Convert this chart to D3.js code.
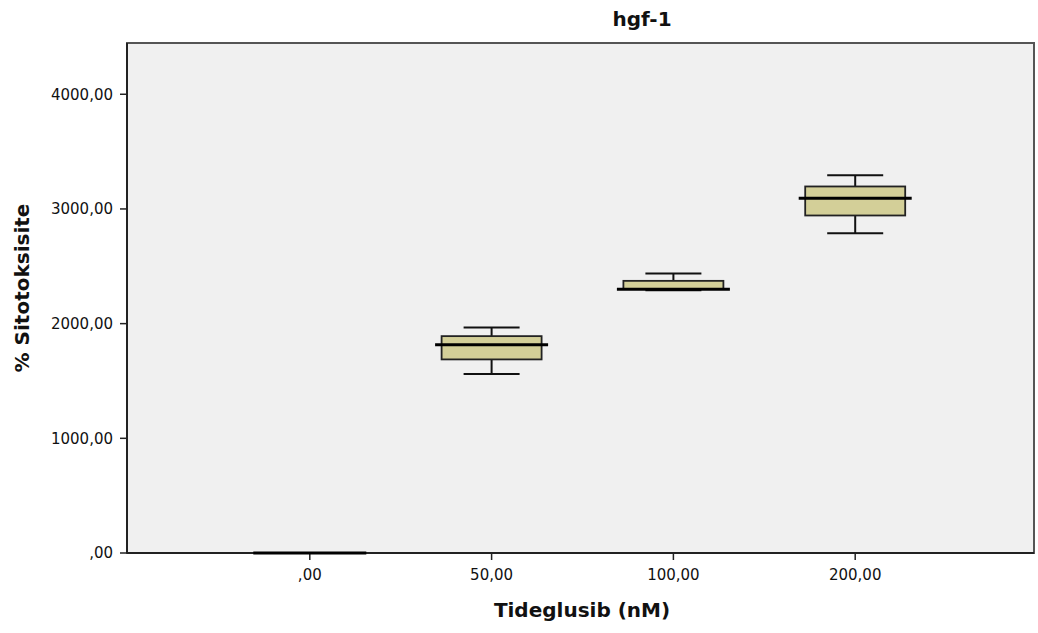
<!DOCTYPE html>
<html><head><meta charset="utf-8">
<script src="https://cdn.jsdelivr.net/npm/d3@7"></script>
<style>body{margin:0;background:#fff}svg{display:block}</style>
</head><body>
<script>
const categories = [",00", "50,00", "100,00", "200,00"];
const whiskerLow = [0, 1560, 2290, 2789];
const q1 = [0, 1688, 2302, 2943];
const median = [0, 1815, 2300, 3094];
const q3 = [0, 1891, 2373, 3196];
const whiskerHigh = [0, 1967, 2437, 3294];
const yTicks = [0, 1000, 2000, 3000, 4000];
const yTickLabels = [",00", "1000,00", "2000,00", "3000,00", "4000,00"];

(function () {
const W = 1038, H = 633;
const svg = d3.select("body").append("svg").attr("width", W).attr("height", H);
const pL = 127, pR = 1034, pT = 43, pB = 553;
const tickFont = "DejaVu Sans, sans-serif";

const x = d3.scalePoint().domain(categories).range([128, 1037]).padding(1);
const y = d3.scaleLinear().domain([0, 4447]).range([pB, pT]);

svg.append("rect").attr("x", pL).attr("y", pT).attr("width", pR - pL).attr("height", pB - pT)
  .attr("fill", "#f0f0f0").attr("stroke", "#555").attr("stroke-width", 2);

// y axis
const ya = svg.append("g");
yTicks.forEach((t, i) => {
  ya.append("line").attr("x1", pL - 7).attr("x2", pL).attr("y1", y(t)).attr("y2", y(t)).attr("stroke", "#222").attr("stroke-width", 1.5);
  ya.append("text").attr("x", pL - 14).attr("y", y(t)).attr("dy", "0.36em").attr("text-anchor", "end")
    .attr("font-family", tickFont).attr("font-size", 15).attr("fill", "#111").text(yTickLabels[i]);
});
// x axis
categories.forEach(c => {
  svg.append("line").attr("x1", x(c)).attr("x2", x(c)).attr("y1", pB).attr("y2", pB + 7).attr("stroke", "#222").attr("stroke-width", 1.5);
  svg.append("text").attr("x", x(c)).attr("y", pB + 27).attr("text-anchor", "middle")
    .attr("font-family", tickFont).attr("font-size", 15).attr("fill", "#111").text(c);
});
svg.append("line").attr("x1", pL).attr("x2", pR).attr("y1", pB).attr("y2", pB).attr("stroke", "#222").attr("stroke-width", 2);
svg.append("line").attr("x1", pL).attr("x2", pL).attr("y1", pT).attr("y2", pB).attr("stroke", "#222").attr("stroke-width", 2);

// boxes
const boxW = 100, medW = 113, capW = 56;
categories.forEach((c, i) => {
  const cx = x(c);
  const g = svg.append("g");
  g.append("line").attr("x1", cx).attr("x2", cx).attr("y1", y(whiskerLow[i])).attr("y2", y(q1[i])).attr("stroke", "#111").attr("stroke-width", 2);
  g.append("line").attr("x1", cx).attr("x2", cx).attr("y1", y(q3[i])).attr("y2", y(whiskerHigh[i])).attr("stroke", "#111").attr("stroke-width", 2);
  g.append("line").attr("x1", cx - capW / 2).attr("x2", cx + capW / 2).attr("y1", y(whiskerLow[i])).attr("y2", y(whiskerLow[i])).attr("stroke", "#111").attr("stroke-width", 2);
  g.append("line").attr("x1", cx - capW / 2).attr("x2", cx + capW / 2).attr("y1", y(whiskerHigh[i])).attr("y2", y(whiskerHigh[i])).attr("stroke", "#111").attr("stroke-width", 2);
  g.append("rect").attr("x", cx - boxW / 2).attr("y", y(q3[i])).attr("width", boxW).attr("height", Math.max(0, y(q1[i]) - y(q3[i])))
    .attr("fill", "#d3cf98").attr("stroke", "#222").attr("stroke-width", 1.8);
  g.append("line").attr("x1", cx - medW / 2).attr("x2", cx + medW / 2).attr("y1", y(median[i])).attr("y2", y(median[i])).attr("stroke", "#000").attr("stroke-width", 3);
});

svg.append("text").attr("x", 642).attr("y", 26).attr("text-anchor", "middle")
  .attr("font-family", "DejaVu Sans, sans-serif").attr("font-weight", "bold").attr("font-size", 20).attr("fill", "#111").text("hgf-1");
svg.append("text").attr("x", 582).attr("y", 617).attr("text-anchor", "middle")
  .attr("font-family", "DejaVu Sans, sans-serif").attr("font-weight", "bold").attr("font-size", 20).attr("fill", "#111").text("Tideglusib (nM)");
svg.append("text").attr("transform", "translate(29,288) rotate(-90)").attr("text-anchor", "middle")
  .attr("font-family", "DejaVu Sans, sans-serif").attr("font-weight", "bold").attr("font-size", 20).attr("fill", "#111").text("% Sitotoksisite");
})();
</script>
</body></html>
